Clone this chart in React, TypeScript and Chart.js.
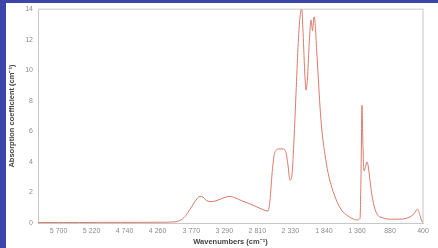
import { useEffect, useRef } from "react";
import { Chart, registerables } from "chart.js";
Chart.register(...registerables);

const wavenumbers = [6000, 5700, 5400, 5100, 4800, 4500, 4300, 4150, 4080, 3964, 3876, 3818, 3760, 3702, 3644, 3600, 3556, 3498, 3440, 3353, 3265, 3207, 3135, 3033, 2916, 2800, 2713, 2655, 2625, 2596, 2567, 2538, 2495, 2436, 2393, 2364, 2335, 2305, 2276, 2247, 2218, 2189, 2164, 2145, 2116, 2102, 2080, 2058, 2029, 2007, 1985, 1971, 1949, 1927, 1898, 1869, 1826, 1782, 1724, 1651, 1578, 1505, 1433, 1360, 1316, 1302, 1287, 1273, 1258, 1229, 1215, 1200, 1171, 1142, 1098, 1055, 996, 880, 735, 647, 589, 531, 480, 444, 415, 400];
const absorption = [0.03, 0.03, 0.03, 0.04, 0.04, 0.04, 0.05, 0.05, 0.06, 0.12, 0.35, 0.7, 1.1, 1.5, 1.75, 1.7, 1.5, 1.4, 1.42, 1.55, 1.7, 1.75, 1.65, 1.45, 1.25, 1.02, 0.85, 0.78, 1.5, 3.2, 4.4, 4.75, 4.85, 4.85, 4.6, 3.8, 2.8, 3.2, 5.5, 8.5, 11.5, 13.5, 14.0, 12.5, 9.5, 8.7, 9.5, 11.5, 13.3, 12.6, 13.5, 13.2, 11.5, 9.8, 7.6, 6.0, 4.5, 3.3, 2.3, 1.4, 0.8, 0.5, 0.3, 0.2, 0.3, 3.0, 7.7, 5.0, 3.4, 3.8, 4.0, 3.8, 2.8, 1.8, 0.9, 0.5, 0.35, 0.25, 0.25, 0.3, 0.4, 0.6, 0.9, 0.5, 0.1, 0.05];
const xTickValues = [5700, 5220, 4740, 4260, 3770, 3290, 2810, 2330, 1840, 1360, 880, 400];
const yTickValues = [0, 2, 4, 6, 8, 10, 12, 14];

const FONT = "'Liberation Sans', Arial, sans-serif";

const fmt = (v: number) => {
  if (v >= 1000) {
    const th = Math.floor(v / 1000);
    return `${th} ${String(v % 1000).padStart(3, "0")}`;
  }
  return String(v);
};

const framePlugin = {
  id: "frame",
  beforeDatasetsDraw(chart: any) {
    const { ctx, chartArea } = chart;
    ctx.save();
    ctx.strokeStyle = "#d9d9d9";
    ctx.lineWidth = 1.5;
    ctx.beginPath();
    ctx.moveTo(chartArea.left, chartArea.top);
    ctx.lineTo(chartArea.right, chartArea.top);
    ctx.lineTo(chartArea.right, chartArea.bottom);
    ctx.stroke();
    ctx.restore();
  },
};

export default function App() {
  const ref = useRef<HTMLCanvasElement>(null);
  useEffect(() => {
    const points = wavenumbers.map((w, i) => ({ x: w, y: absorption[i] }));
    const chart = new Chart(ref.current!, {
      type: "line",
      data: {
        datasets: [
          {
            data: points,
            borderColor: "#d97b6c",
            borderWidth: 1,
            pointRadius: 0,
            fill: false,
            cubicInterpolationMode: "monotone",
          },
        ],
      },
      options: {
        animation: false,
        responsive: false,
        layout: { padding: { left: 6, top: 5, right: 15, bottom: 0 } },
        plugins: { legend: { display: false }, tooltip: { enabled: false } },
        scales: {
          x: {
            type: "linear",
            reverse: true,
            min: 400,
            max: 6000,
            afterBuildTicks: (s: any) => {
              s.ticks = xTickValues.map((v) => ({ value: v }));
            },
            afterFit: (s: any) => {
              s.height = 25;
            },
            ticks: {
              autoSkip: false,
              maxRotation: 0,
              padding: 4,
              color: "#8c8c8c",
              font: { size: 7, family: FONT },
              callback: (v: any) => fmt(Number(v)),
            },
            grid: { display: false, drawTicks: false },
            border: { color: "#c8c8c8" },
            title: {
              display: true,
              text: "Wavenumbers (cm⁻¹)",
              color: "#444",
              font: { size: 7.5, weight: "bold", family: FONT },
              padding: { top: 0, bottom: 1.5 },
            },
          },
          y: {
            min: 0,
            max: 14,
            afterBuildTicks: (s: any) => {
              s.ticks = yTickValues.map((v) => ({ value: v }));
            },
            afterFit: (s: any) => {
              s.width = 32;
            },
            ticks: {
              padding: 5,
              color: "#8c8c8c",
              font: { size: 7, family: FONT },
            },
            grid: { display: false, drawTicks: false },
            border: { color: "#c8c8c8" },
            title: {
              display: true,
              text: "Absorption coefficient (cm⁻¹)",
              color: "#444",
              font: { size: 7.5, weight: "bold", family: FONT },
              padding: { top: 1.5, bottom: 0 },
            },
          },
        },
      },
      plugins: [framePlugin],
    } as any);
    return () => chart.destroy();
  }, []);

  return (
    <div style={{ position: "fixed", left: 0, top: 0, width: 438, height: 248, background: "#3d45a8" }}>
      <div style={{ position: "absolute", left: 6, top: 3, right: 0, bottom: 0, background: "#ffffff" }} />
      <canvas
        ref={ref}
        width={438}
        height={248}
        style={{ position: "absolute", left: 0, top: 0, width: 438, height: 248 }}
      />
    </div>
  );
}
